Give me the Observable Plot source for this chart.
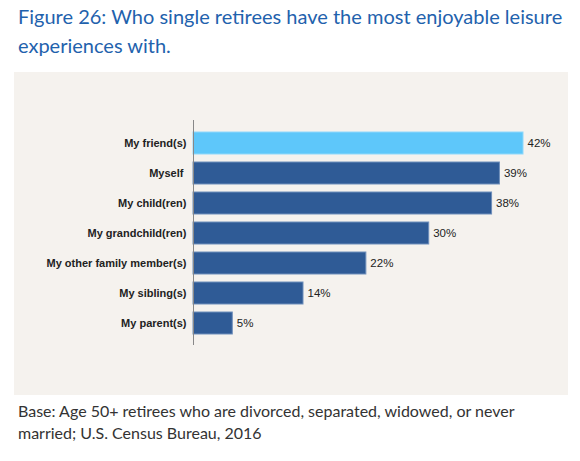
<!DOCTYPE html>
<html lang="en">
<head>
<meta charset="UTF-8">
<title>Figure 26</title>
<script src="https://cdn.jsdelivr.net/npm/d3@7"></script>
<script src="https://cdn.jsdelivr.net/npm/@observablehq/plot@0.6/dist/plot.umd.min.js"></script>
<style>
  body { margin: 0; background: #fff; width: 580px; }
  h1 { font-family: Lato, sans-serif; font-weight: 400; font-size: 20px; line-height: 29px;
       color: #1f62ad; margin: 2px 0 0 18px; }
  #chart { margin: 12px 0 0 14px; width: 554px; height: 323px; }
  #chart svg { display: block; }
  p.note { font-family: Lato, sans-serif; font-size: 16px; line-height: 22px; color: #333;
           margin: 5px 0 0 18px; width: 540px; }
</style>
</head>
<body>
<h1>Figure 26: Who single retirees have the most enjoyable leisure experiences with.</h1>
<div id="chart"></div>
<p class="note">Base: Age 50+ retirees who are divorced, separated, widowed, or never married; U.S. Census Bureau, 2016</p>
<script>
// categories and shares (%)
const people = ["My friend(s)", "Myself ", "My child(ren)", "My grandchild(ren)", "My other family member(s)", "My sibling(s)", "My parent(s)"];
const shares = [42, 39, 38, 30, 22, 14, 5];
const highlight = "My friend(s)";

const rows = people.map((who, i) => ({who, share: shares[i]}));

const chart = Plot.plot({
  width: 554,
  height: 323,
  marginLeft: 179,
  marginRight: 45,
  marginTop: 48,
  marginBottom: 50,
  style: {background: "#f5f2ee", fontFamily: "'Liberation Sans', Arial, sans-serif"},
  x: {domain: [0, 42], axis: null},
  y: {domain: people, padding: 0.28, label: null, tickSize: 0, tickPadding: 7},
  marks: [
    Plot.barX(rows, {
      y: "who", x: "share",
      fill: d => d.who === highlight ? "#5ec7fa" : "#2f5b96",
      stroke: d => d.who === highlight ? "#8fd8fb" : "#6f8fbb",
      strokeWidth: 1
    }),
    Plot.text(rows, {
      y: "who", x: "share", text: d => d.share + "%",
      dx: 4, textAnchor: "start", fontSize: 11.5, fill: "#222"
    }),
    Plot.ruleX([0], {stroke: "#888", strokeWidth: 1}),
    Plot.axisY({tickSize: 0, tickPadding: 7, fontSize: 11, fontWeight: "bold", fill: "#222", label: null})
  ]
});
document.querySelector("#chart").append(chart);
</script>
</body>
</html>
